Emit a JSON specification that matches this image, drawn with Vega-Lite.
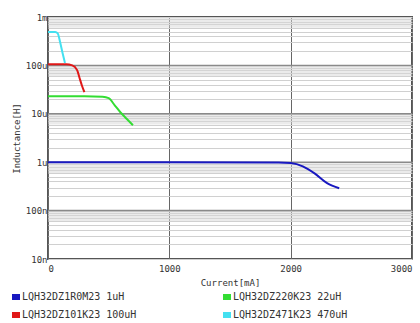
{
  "$schema": "https://vega.github.io/schema/vega-lite/v6.json",
  "width": 364,
  "height": 242,
  "autosize": {"type": "none"},
  "padding": {"left": 48, "top": 17, "right": 8, "bottom": 64},
  "background": "white",
  "config": {
    "font": "DejaVu Sans Mono",
    "view": {"stroke": "#555", "strokeWidth": 2},
    "axis": {"labelFont": "DejaVu Sans Mono", "titleFont": "DejaVu Sans Mono", "labelFontSize": 9, "titleFontSize": 9, "labelColor": "#333", "titleColor": "#333", "titleFontWeight": "normal", "domain": false, "ticks": false}
  },
  "datasets": {
    "curves": [
      {"series": "LQH32DZ1R0M23 1uH", "current": 0, "L": 1.0e-6},
      {"series": "LQH32DZ1R0M23 1uH", "current": 1000, "L": 1.0e-6},
      {"series": "LQH32DZ1R0M23 1uH", "current": 1900, "L": 0.99e-6},
      {"series": "LQH32DZ1R0M23 1uH", "current": 2000, "L": 0.96e-6},
      {"series": "LQH32DZ1R0M23 1uH", "current": 2100, "L": 0.82e-6},
      {"series": "LQH32DZ1R0M23 1uH", "current": 2200, "L": 0.58e-6},
      {"series": "LQH32DZ1R0M23 1uH", "current": 2300, "L": 0.37e-6},
      {"series": "LQH32DZ1R0M23 1uH", "current": 2400, "L": 0.29e-6},
      {"series": "LQH32DZ220K23 22uH", "current": 0, "L": 23e-6},
      {"series": "LQH32DZ220K23 22uH", "current": 300, "L": 23e-6},
      {"series": "LQH32DZ220K23 22uH", "current": 450, "L": 22.5e-6},
      {"series": "LQH32DZ220K23 22uH", "current": 500, "L": 21e-6},
      {"series": "LQH32DZ220K23 22uH", "current": 550, "L": 15e-6},
      {"series": "LQH32DZ220K23 22uH", "current": 600, "L": 10.5e-6},
      {"series": "LQH32DZ220K23 22uH", "current": 650, "L": 7.8e-6},
      {"series": "LQH32DZ220K23 22uH", "current": 700, "L": 5.8e-6},
      {"series": "LQH32DZ101K23 100uH", "current": 0, "L": 105e-6},
      {"series": "LQH32DZ101K23 100uH", "current": 150, "L": 105e-6},
      {"series": "LQH32DZ101K23 100uH", "current": 200, "L": 100e-6},
      {"series": "LQH32DZ101K23 100uH", "current": 240, "L": 80e-6},
      {"series": "LQH32DZ101K23 100uH", "current": 260, "L": 55e-6},
      {"series": "LQH32DZ101K23 100uH", "current": 280, "L": 38e-6},
      {"series": "LQH32DZ101K23 100uH", "current": 300, "L": 28e-6},
      {"series": "LQH32DZ471K23 470uH", "current": 0, "L": 490e-6},
      {"series": "LQH32DZ471K23 470uH", "current": 60, "L": 490e-6},
      {"series": "LQH32DZ471K23 470uH", "current": 80, "L": 460e-6},
      {"series": "LQH32DZ471K23 470uH", "current": 100, "L": 300e-6},
      {"series": "LQH32DZ471K23 470uH", "current": 120, "L": 180e-6},
      {"series": "LQH32DZ471K23 470uH", "current": 140, "L": 112e-6}
    ],
    "bands": [
      {"lo": 6e-8, "hi": 1e-7},
      {"lo": 6e-7, "hi": 1e-6},
      {"lo": 6e-6, "hi": 1e-5},
      {"lo": 6e-5, "hi": 1e-4},
      {"lo": 6e-4, "hi": 1e-3}
    ],
    "decades": [
      {"L": 1e-7}, {"L": 1e-6}, {"L": 1e-5}, {"L": 1e-4}
    ]
  },
  "layer": [
    {
      "data": {"name": "bands"},
      "mark": {"type": "rect", "color": "#d8d8d8", "opacity": 0.5},
      "encoding": {
        "y": {"field": "lo", "type": "quantitative", "scale": {"type": "log", "domain": [1e-8, 1e-3], "nice": false}},
        "y2": {"field": "hi"}
      }
    },
    {
      "data": {"name": "decades"},
      "mark": {"type": "rule", "color": "#8a8a8a", "strokeWidth": 1.5},
      "encoding": {
        "y": {"field": "L", "type": "quantitative"}
      }
    },
    {
      "data": {"name": "curves"},
      "mark": {"type": "line", "strokeWidth": 2, "interpolate": "monotone"},
      "encoding": {
        "x": {
          "field": "current", "type": "quantitative",
          "scale": {"domain": [0, 3000], "nice": false},
          "axis": {"values": [0, 1000, 2000, 3000], "format": "d", "title": "Current[mA]", "gridColor": "#666", "gridWidth": 1, "labelPadding": 5, "titlePadding": 5}
        },
        "y": {
          "field": "L", "type": "quantitative",
          "scale": {"type": "log", "domain": [1e-8, 1e-3], "nice": false},
          "axis": {
            "title": "Inductance[H]",
            "values": [1e-8,2e-8,3e-8,4e-8,5e-8,6e-8,7e-8,8e-8,9e-8,1e-7,2e-7,3e-7,4e-7,5e-7,6e-7,7e-7,8e-7,9e-7,1e-6,2e-6,3e-6,4e-6,5e-6,6e-6,7e-6,8e-6,9e-6,1e-5,2e-5,3e-5,4e-5,5e-5,6e-5,7e-5,8e-5,9e-5,1e-4,2e-4,3e-4,4e-4,5e-4,6e-4,7e-4,8e-4,9e-4,1e-3],
            "labelExpr": "datum.value > 9.9e-4 ? '1m' : (abs(datum.value - 1e-4) < 1e-9 ? '100u' : (abs(datum.value - 1e-5) < 1e-10 ? '10u' : (abs(datum.value - 1e-6) < 1e-11 ? '1u' : (abs(datum.value - 1e-7) < 1e-12 ? '100n' : (abs(datum.value - 1e-8) < 1e-13 ? '10n' : '')))))",
            "gridColor": "#d0d0d0",
            "gridWidth": 1,
            "labelOverlap": false,
            "labelPadding": 1,
            "titlePadding": 4
          }
        },
        "color": {
          "field": "series", "type": "nominal",
          "scale": {
            "domain": ["LQH32DZ1R0M23 1uH", "LQH32DZ101K23 100uH", "LQH32DZ220K23 22uH", "LQH32DZ471K23 470uH"],
            "range": ["#1818c0", "#e01818", "#33dd33", "#44e0f0"]
          },
          "legend": {
            "title": null,
            "orient": "none",
            "legendX": -37,
            "legendY": 275,
            "columns": 2,
            "columnPadding": 85,
            "rowPadding": 8,
            "symbolType": "M-1,-0.75H1V0.75H-1Z",
            "symbolSize": 64,
            "labelFontSize": 10,
            "labelColor": "#333",
            "labelOffset": 1,
            "labelFont": "DejaVu Sans Mono",
            "labelLimit": 200,
            "encode": {
              "symbols": {
                "update": {
                  "fill": {"scale": "color", "field": "value"},
                  "stroke": {"value": "transparent"},
                  "strokeWidth": {"value": 0}
                }
              }
            }
          }
        }
      }
    }
  ]
}
